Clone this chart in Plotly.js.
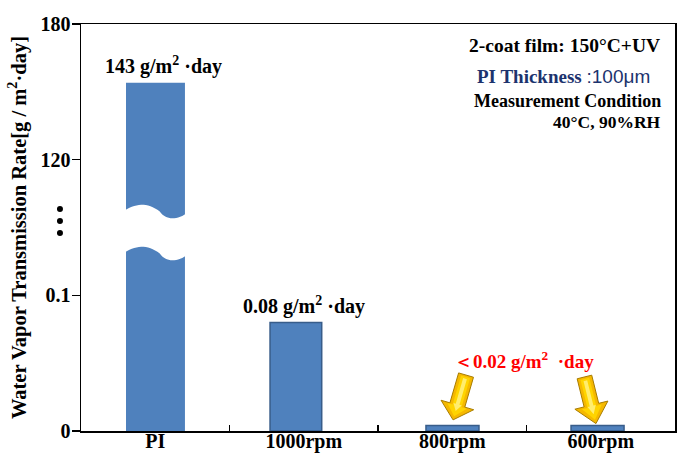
<!DOCTYPE html>
<html><head><meta charset="utf-8">
<script src="https://cdn.plot.ly/plotly-3.0.1.min.js"></script>
<style>html,body{margin:0;padding:0;background:#fff}</style>
</head><body>
<div id="chart" style="width:690px;height:457px"></div>
<script>
// ---- data ----
const categories = ['PI', '1000rpm', '800rpm', '600rpm'];
const wvtrValues = [154, 0.08, 0.004, 0.004];
const yTickValues = [0, 0.1, 120, 180];
const yTickLabels = ['0', '0.1', '120', '180'];
const barLabels = ['143 g/m<sup>2</sup> ·day', '0.08 g/m<sup>2</sup> ·day'];
const lowLabel = '＜0.02 g/m<sup>2</sup>  ·day';

// broken-axis transform: 0..0.1 | break | 120..180, each segment one unit
function toAxis(v) {
  if (v <= 0.1) return v / 0.1;
  if (v >= 120) return 2 + (v - 120) / 60;
  return 1 + (v - 0.1) / (120 - 0.1);
}

const serif = 'Liberation Serif, Times New Roman, serif';
const BLUE = '#4F81BD';

const trace = {
  type: 'bar',
  x: categories,
  y: wvtrValues.map(toAxis),
  width: [0.397, 0.348, 0.357, 0.357],
  offset: [-0.197, -0.227, -0.177, -0.2],
  marker: {
    color: BLUE,
    line: { color: '#385D8A', width: [0, 1.5, 1.5, 1.5] }
  },
  hoverinfo: 'skip'
};

// helpers for decorative shapes given in pixel offsets (screen, y down)
function pathFromPts(pts, close) {
  return pts.map((p, i) => (i ? 'L' : 'M') + p[0].toFixed(2) + ',' + (-p[1]).toFixed(2)).join(' ') + (close ? ' Z' : '');
}
function arrowPts(tip, tail, sw, hw, hl) {
  const dx = tip[0] - tail[0], dy = tip[1] - tail[1];
  const L = Math.hypot(dx, dy), ux = dx / L, uy = dy / L;
  const nx = -uy, ny = ux;
  const B = [tip[0] - ux * hl, tip[1] - uy * hl];
  return [
    [tail[0] + nx * sw / 2, tail[1] + ny * sw / 2],
    [B[0] + nx * sw / 2, B[1] + ny * sw / 2],
    [B[0] + nx * hw / 2, B[1] + ny * hw / 2],
    tip,
    [B[0] - nx * hw / 2, B[1] - ny * hw / 2],
    [B[0] - nx * sw / 2, B[1] - ny * sw / 2],
    [tail[0] - nx * sw / 2, tail[1] - ny * sw / 2]
  ];
}
function cubic(p0, c1, c2, p1, n) {
  const out = [];
  for (let i = 0; i <= n; i++) {
    const t = i / n, m = 1 - t;
    out.push([
      m*m*m*p0[0] + 3*m*m*t*c1[0] + 3*m*t*t*c2[0] + t*t*t*p1[0],
      m*m*m*p0[1] + 3*m*m*t*c1[1] + 3*m*t*t*c2[1] + t*t*t*p1[1]
    ]);
  }
  return out;
}
// wave edge relative to PI bar centre (px), gap between edges
function waveEdge(off) {
  const a = cubic([-33, -20 + off], [-20, -29 + off], [-8, -30 + off], [4.5, -20.5 + off], 16);
  const b = cubic([4.5, -20.5 + off], [10.5, -11.5 + off], [22.5, -11.5 + off], [33, -20 + off], 16);
  return a.concat(b.slice(1));
}
const upper = waveEdge(0);
const lower = waveEdge(42).reverse();
const breakPath = pathFromPts(upper.concat(lower), true);

const shapes = [
  { type: 'path', xref: 'x', yref: 'y', xsizemode: 'pixel', ysizemode: 'pixel',
    xanchor: 0, yanchor: 1.4668, path: breakPath, fillcolor: '#ffffff', line: { width: 0 }, layer: 'above' }
];

// arrows pointing to the tiny bars
const arrowDefs = [
  { idx: 2, tip: [0.8, -5.7], tail: [13.8, -50.5], sw: 15.5, hw: 34, hl: 15.5 },
  { idx: 3, tip: [-4.8, -2], tail: [-16.3, -48.6], sw: 15, hw: 34, hl: 19 }
];
arrowDefs.forEach(a => {
  const anchor = { xref: 'x', yref: 'y', xsizemode: 'pixel', ysizemode: 'pixel',
    xanchor: a.idx, yanchor: toAxis(wvtrValues[a.idx]), layer: 'above' };
  shapes.push(Object.assign({ type: 'path',
    path: pathFromPts(arrowPts(a.tip, a.tail, a.sw, a.hw, a.hl), true),
    fillcolor: '#F5B800', line: { color: '#A87C00', width: 1 } }, anchor));
  shapes.push(Object.assign({ type: 'path',
    path: pathFromPts(arrowPts([a.tip[0] + (a.tail[0]-a.tip[0])*0.08, a.tip[1] + (a.tail[1]-a.tip[1])*0.08],
                               [a.tail[0] + (a.tip[0]-a.tail[0])*0.04, a.tail[1] + (a.tip[1]-a.tail[1])*0.04],
                               a.sw * 0.6, a.hw * 0.6, a.hl * 0.7), true),
    fillcolor: '#FFD400', line: { width: 0 } }, anchor));
  shapes.push(Object.assign({ type: 'path',
    path: pathFromPts(arrowPts([a.tip[0] + (a.tail[0]-a.tip[0])*0.2, a.tip[1] + (a.tail[1]-a.tip[1])*0.2],
                               [a.tail[0] + (a.tip[0]-a.tail[0])*0.08, a.tail[1] + (a.tip[1]-a.tail[1])*0.08],
                               a.sw * 0.25, a.hw * 0.25, a.hl * 0.45), true),
    fillcolor: '#FFF07A', opacity: 0.9, line: { width: 0 } }, anchor));
});

// break dots on the y axis
[1.636, 1.548, 1.459].forEach(yy => {
  shapes.push({ type: 'circle', xref: 'paper', yref: 'y', xsizemode: 'pixel', ysizemode: 'pixel',
    xanchor: -0.0354, yanchor: yy, x0: -3, x1: 3, y0: -3, y1: 3,
    fillcolor: '#000', line: { width: 0 } });
});

const boldFont = (size, color) => ({ family: serif, size: size, color: color || '#000', weight: 'bold' });

const annotations = [
  { x: 0, y: toAxis(wvtrValues[0]), xref: 'x', yref: 'y', text: barLabels[0], showarrow: false,
    yanchor: 'bottom', xshift: 8, yshift: 3, font: boldFont(20) },
  { x: 1, y: toAxis(wvtrValues[1]), xref: 'x', yref: 'y', text: barLabels[1], showarrow: false,
    yanchor: 'bottom', xshift: 0, yshift: 2, font: boldFont(20) },
  { x: 2.48, y: 0.52, xref: 'x', yref: 'y', text: lowLabel, showarrow: false, font: boldFont(19, '#FF0000') },
  { x: 0.978, y: 0.948, xref: 'paper', yref: 'paper', xanchor: 'right', yanchor: 'middle', showarrow: false,
    text: '2-coat film: 150°C+UV', font: boldFont(19.5) },
  { x: 0.962, y: 0.870, xref: 'paper', yref: 'paper', xanchor: 'right', yanchor: 'middle', showarrow: false,
    text: 'PI Thickness <span style="font-family:Liberation Sans,Arial,sans-serif;font-weight:normal">:100μm</span>',
    font: boldFont(19, '#1C336E') },
  { x: 0.980, y: 0.811, xref: 'paper', yref: 'paper', xanchor: 'right', yanchor: 'middle', showarrow: false,
    text: 'Measurement Condition', font: boldFont(18) },
  { x: 0.980, y: 0.759, xref: 'paper', yref: 'paper', xanchor: 'right', yanchor: 'middle', showarrow: false,
    text: '40°C, 90%RH', font: boldFont(17.5) }
];

const layout = {
  width: 690, height: 457,
  margin: { l: 81, r: 15, t: 24, b: 26, pad: 0 },
  paper_bgcolor: '#fff', plot_bgcolor: '#fff',
  showlegend: false,
  xaxis: {
    type: 'category', range: [-0.5, 3.5],
    showline: true, linecolor: '#000', linewidth: 1.5, mirror: true,
    ticks: 'inside', tickson: 'boundaries', ticklen: 6, tickwidth: 1.2, tickcolor: '#000',
    ticklabelstandoff: -9,
    showgrid: false, zeroline: false,
    tickfont: boldFont(20)
  },
  yaxis: {
    range: [0, 3], tickmode: 'array',
    tickvals: yTickValues.map(toAxis), ticktext: yTickLabels,
    showline: true, linecolor: '#000', linewidth: 1.5, mirror: true,
    ticks: 'outside', ticklen: 8, tickwidth: 1.5, tickcolor: '#000',
    ticklabelstandoff: -3,
    showgrid: false, zeroline: false,
    tickfont: boldFont(20),
    title: { text: 'Water Vapor Transmission Rate[g / m<sup>2</sup>·day]', font: boldFont(20.5), standoff: 8 }
  },
  shapes: shapes,
  annotations: annotations
};

Plotly.newPlot('chart', [trace], layout, { displayModeBar: false, staticPlot: true });
</script>
</body></html>
